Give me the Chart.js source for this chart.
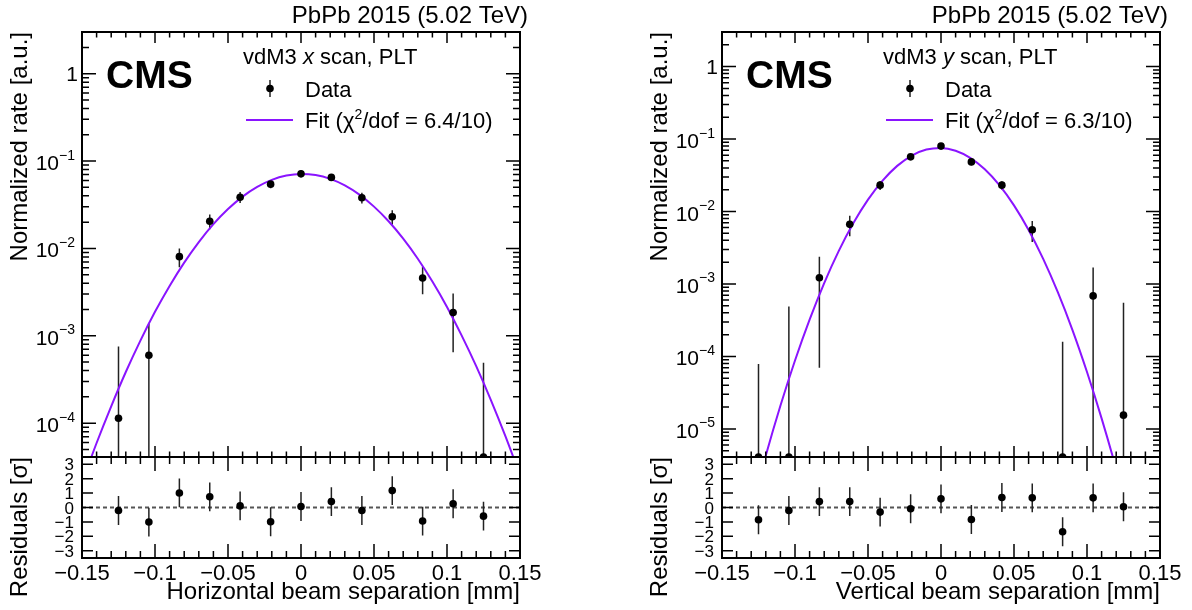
<!DOCTYPE html>
<html lang="en">
<head>
<meta charset="UTF-8">
<title>PLT vdM3 scans, PbPb 2015</title>
<script src="https://cdn.jsdelivr.net/npm/chart.js@4.4.1/dist/chart.umd.min.js"></script>
<style>
  body { margin: 0; background: #fff; }
  #wrap { position: relative; width: 1192px; height: 610px; }
  #wrap canvas { position: absolute; left: 0; top: 0; }
</style>
</head>
<body>
<div id="wrap">
  <canvas id="xRatePad" width="1192" height="610"></canvas>
  <canvas id="xResidPad" width="1192" height="610"></canvas>
  <canvas id="yRatePad" width="1192" height="610"></canvas>
  <canvas id="yResidPad" width="1192" height="610"></canvas>
</div>
<script>
// beam separation of the scan steps [mm] (same steps for both scans)
const separation = [-0.125, -0.1042, -0.0833, -0.0625, -0.0417, -0.0208, 0, 0.0208, 0.0417, 0.0625, 0.0833, 0.1042, 0.125];

// x scan: normalized rate, its error, residuals
const xRate = [1.14e-4, 5.98e-4, 8.05e-3, 0.0205, 0.0386, 0.0544, 0.0716, 0.065, 0.038, 0.023, 4.58e-3, 1.85e-3, 0];
const xRateErr = [6.4e-4, 7.8e-4, 1.95e-3, 3.9e-3, 5.5e-3, 5.7e-3, 6.6e-3, 5.5e-3, 5.4e-3, 4.3e-3, 1.6e-3, 1.2e-3, 4.9e-4];
const xResid = [-0.21, -1.01, 1.01, 0.74, 0.11, -0.99, 0.07, 0.41, -0.21, 1.17, -0.94, 0.26, -0.6];

// y scan
const yRate = [0, 0, 1.22e-3, 6.65e-3, 0.0231, 0.0568, 0.0799, 0.0484, 0.0231, 5.6e-3, 0, 6.85e-4, 1.55e-5];
const yRateErr = [7.9e-5, 4.9e-4, 1.15e-3, 2.1e-3, 3.3e-3, 5.5e-3, 7e-3, 5e-3, 3.1e-3, 1.8e-3, 1.6e-4, 1.0e-3, 5.35e-4];
const yResid = [-0.85, -0.21, 0.41, 0.41, -0.32, -0.09, 0.6, -0.83, 0.69, 0.67, -1.68, 0.67, 0.05];

// fit curves read along the separation axis
const fitSep = [-0.15, -0.14, -0.13, -0.12, -0.11, -0.10, -0.09, -0.08, -0.07, -0.06, -0.05, -0.04, -0.03, -0.02, -0.01, 0,
                0.01, 0.02, 0.03, 0.04, 0.05, 0.06, 0.07, 0.08, 0.09, 0.10, 0.11, 0.12, 0.13, 0.14, 0.15];
const xFit = [2.09e-5, 5.93e-5, 1.56e-4, 3.85e-4, 8.81e-4, 1.88e-3, 3.72e-3, 6.88e-3, 0.01183, 0.01894, 0.02822, 0.03918, 0.05062, 0.06092, 0.06825, 0.0712,
              0.06913, 0.0625, 0.05262, 0.04125, 0.0301, 0.02046, 0.01294, 7.62e-3, 4.18e-3, 2.14e-3, 1.01e-3, 4.49e-4, 1.85e-4, 7.1e-5, 2.54e-5];
const yFit = [1.6e-8, 1.2e-7, 7.7e-7, 4.3e-6, 2.09e-5, 8.8e-5, 3.22e-4, 1.03e-3, 2.86e-3, 6.92e-3, 0.01457, 0.0267, 0.04264, 0.05924, 0.07164, 0.0754,
              0.0691, 0.0551, 0.03827, 0.02313, 0.01216, 5.57e-3, 2.22e-3, 7.7e-4, 2.33e-4, 6.1e-5, 1.4e-5, 2.8e-6, 4.8e-7, 7.4e-8, 9.6e-9];

// axes
const sepTicks = [-0.15, -0.1, -0.05, 0, 0.05, 0.1, 0.15];
const sepTickLabels = ['\u22120.15', '\u22120.1', '\u22120.05', '0', '0.05', '0.1', '0.15'];
const xRateDecades = [0, -1, -2, -3, -4];
const yRateDecades = [0, -1, -2, -3, -4, -5];
const residTicks = [3, 2, 1, 0, -1, -2, -3];
const residTickLabels = ['3', '2', '1', '0', '\u22121', '\u22122', '\u22123'];

const FONT = '"Liberation Sans", Arial, Helvetica, sans-serif';
const FIT_COLOR = '#8a14ff';

function font(size, style) {
    return (style || '') + ' ' + size + 'px ' + FONT;
}

// write text made of several pieces (normal / italic / superscript)
function drawRich(ctx, parts, x, y) {
    let cx = x;
    ctx.textAlign = 'left';
    parts.forEach(function (p) {
        ctx.font = font(p[1], p[2]);
        ctx.fillText(p[0], cx, y + (p[3] || 0));
        cx += ctx.measureText(p[0]).width;
    });
}

function vText(ctx, text, x, y, size) {
    ctx.save();
    ctx.translate(x, y);
    ctx.rotate(-Math.PI / 2);
    ctx.font = font(size);
    ctx.textAlign = 'right';
    ctx.fillText(text, 0, 0);
    ctx.restore();
}

function clipToArea(ctx, a) {
    ctx.beginPath();
    ctx.rect(a.left, a.top, a.right - a.left, a.bottom - a.top);
    ctx.clip();
}

function drawErrorBars(chart, values, errs) {
    const ctx = chart.ctx, a = chart.chartArea;
    const sx = chart.scales.x, sy = chart.scales.y;
    ctx.save();
    clipToArea(ctx, a);
    ctx.strokeStyle = '#222';
    ctx.lineWidth = 1.5;
    ctx.beginPath();
    values.forEach(function (v, i) {
        const px = sx.getPixelForValue(separation[i]);
        const lo = v - errs[i];
        ctx.moveTo(px, sy.getPixelForValue(v + errs[i]));
        ctx.lineTo(px, lo > sy.min ? sy.getPixelForValue(lo) : a.bottom);
    });
    ctx.stroke();
    ctx.restore();
}

function drawFrameAndSepTicks(chart, major, minor) {
    const ctx = chart.ctx, a = chart.chartArea, sx = chart.scales.x;
    ctx.save();
    ctx.strokeStyle = '#000';
    ctx.lineWidth = 1.5;
    ctx.beginPath();
    for (let k = -15; k <= 15; k++) {
        const px = sx.getPixelForValue(k / 100);
        const len = k % 5 === 0 ? major : minor;
        ctx.moveTo(px, a.bottom); ctx.lineTo(px, a.bottom - len);
        ctx.moveTo(px, a.top); ctx.lineTo(px, a.top + len);
    }
    ctx.stroke();
    ctx.lineWidth = 2;
    ctx.strokeRect(a.left, a.top, a.right - a.left, a.bottom - a.top);
    ctx.restore();
}

function drawLogTicks(chart, decades) {
    const ctx = chart.ctx, a = chart.chartArea, sy = chart.scales.y;
    const lo = Math.floor(Math.log10(sy.min)), hi = Math.ceil(Math.log10(sy.max));
    ctx.save();
    ctx.strokeStyle = '#000';
    ctx.lineWidth = 1.5;
    ctx.beginPath();
    for (let d = lo; d <= hi; d++) {
        for (let m = 1; m <= 9; m++) {
            const v = m * Math.pow(10, d);
            if (v < sy.min || v > sy.max) continue;
            const py = sy.getPixelForValue(v);
            const len = m === 1 ? 14 : 7;
            ctx.moveTo(a.left, py); ctx.lineTo(a.left + len, py);
            ctx.moveTo(a.right, py); ctx.lineTo(a.right - len, py);
        }
    }
    ctx.stroke();

    // 1, 10^-1, 10^-2 ...
    ctx.fillStyle = '#000';
    decades.forEach(function (d) {
        const py = sy.getPixelForValue(Math.pow(10, d));
        if (d === 0) {
            ctx.font = font(21);
            ctx.textAlign = 'right';
            ctx.fillText('1', a.left - 4, py + 7.5);
            return;
        }
        const sup = '\u2212' + (-d);
        const xr = a.left - 7;
        ctx.font = font(14);
        const sw = ctx.measureText(sup).width;
        ctx.textAlign = 'left';
        ctx.fillText(sup, xr - sw, py - 1.5);
        ctx.font = font(21);
        ctx.textAlign = 'right';
        ctx.fillText('10', xr - sw, py + 9);
    });
    ctx.restore();
}

function ratePad(values, errs, decades, scanAxis, chi2) {
    return {
        id: 'ratePad',
        beforeDatasetsDraw(chart) {
            drawErrorBars(chart, values, errs);
        },
        afterDatasetsDraw(chart) {
            drawFrameAndSepTicks(chart, 11, 5.5);
            drawLogTicks(chart, decades);
        },
        afterDraw(chart) {
            const ctx = chart.ctx, a = chart.chartArea;
            ctx.save();
            ctx.fillStyle = '#000';
            ctx.textAlign = 'right';
            ctx.font = font(24);
            ctx.fillText('PbPb 2015 (5.02 TeV)', a.right + 8, 23);
            ctx.textAlign = 'left';
            ctx.font = font(39, 'bold');
            ctx.fillText('CMS', a.left + 24, 88);
            drawRich(ctx, [['vdM3 ', 22], [scanAxis, 22, 'italic'], [' scan, PLT', 22]], a.left + 161, 64);

            // legend
            const mx = a.left + 188, my = 88.5;
            ctx.strokeStyle = '#222';
            ctx.lineWidth = 1.5;
            ctx.beginPath();
            ctx.moveTo(mx, my - 8.5); ctx.lineTo(mx, my + 8.5);
            ctx.stroke();
            ctx.beginPath();
            ctx.arc(mx, my, 3.8, 0, 2 * Math.PI);
            ctx.fill();
            ctx.font = font(22);
            ctx.fillText('Data', a.left + 223, 96.5);
            ctx.strokeStyle = FIT_COLOR;
            ctx.lineWidth = 2;
            ctx.beginPath();
            ctx.moveTo(a.left + 164, 120); ctx.lineTo(a.left + 211, 120);
            ctx.stroke();
            drawRich(ctx, [['Fit (\u03c7', 22], ['2', 14, '', -9], ['/dof = ' + chi2 + ')', 22]], a.left + 223, 127.5);

            vText(ctx, 'Normalized rate [a.u.]', a.left - 55, a.top, 24);
            ctx.restore();
        }
    };
}

function residPad(values, title) {
    return {
        id: 'residPad',
        beforeDatasetsDraw(chart) {
            const ctx = chart.ctx, a = chart.chartArea;
            const py = chart.scales.y.getPixelForValue(0);
            ctx.save();
            ctx.strokeStyle = '#555';
            ctx.lineWidth = 2;
            ctx.setLineDash([4, 3]);
            ctx.beginPath();
            ctx.moveTo(a.left, py); ctx.lineTo(a.right, py);
            ctx.stroke();
            ctx.restore();
            drawErrorBars(chart, values, values.map(function () { return 1; }));
        },
        afterDatasetsDraw(chart) {
            const ctx = chart.ctx, a = chart.chartArea, sy = chart.scales.y;
            drawFrameAndSepTicks(chart, 14, 7);
            ctx.save();
            ctx.strokeStyle = '#000';
            ctx.lineWidth = 1.5;
            ctx.beginPath();
            residTicks.forEach(function (t) {
                const py = sy.getPixelForValue(t);
                ctx.moveTo(a.left, py); ctx.lineTo(a.left + 11, py);
                ctx.moveTo(a.right, py); ctx.lineTo(a.right - 11, py);
            });
            ctx.stroke();
            ctx.restore();
        },
        afterDraw(chart) {
            const ctx = chart.ctx, a = chart.chartArea;
            const sx = chart.scales.x, sy = chart.scales.y;
            ctx.save();
            ctx.fillStyle = '#000';
            ctx.textAlign = 'right';
            ctx.font = font(17);
            residTicks.forEach(function (t, i) {
                ctx.fillText(residTickLabels[i], a.left - 8, sy.getPixelForValue(t) + 6);
            });
            ctx.textAlign = 'center';
            ctx.font = font(22);
            sepTicks.forEach(function (t, i) {
                ctx.fillText(sepTickLabels[i], sx.getPixelForValue(t), 580);
            });
            ctx.textAlign = 'right';
            ctx.font = font(24);
            ctx.fillText(title, a.right, 599);
            vText(ctx, 'Residuals [\u03c3]', a.left - 55, a.top, 24);
            ctx.restore();
        }
    };
}

function points(ys, floor) {
    return separation.map(function (s, i) {
        return { x: s, y: floor === undefined ? ys[i] : Math.max(ys[i], floor) };
    });
}

function baseOptions(pad, yScale) {
    return {
        responsive: false,
        animation: false,
        events: [],
        layout: { padding: pad },
        plugins: { legend: { display: false }, tooltip: { enabled: false } },
        scales: {
            x: { type: 'linear', min: -0.15, max: 0.15, bounds: 'data', display: false },
            y: yScale
        }
    };
}

function makeRateChart(id, values, errs, fit, yMin, decades, scanAxis, chi2, pad) {
    new Chart(document.getElementById(id), {
        type: 'scatter',
        data: {
            datasets: [
                { data: points(values, yMin), pointRadius: 3.8, pointBackgroundColor: '#000', pointBorderWidth: 0, clip: 0 },
                {
                    data: fitSep.map(function (s, i) { return { x: s, y: fit[i] }; }),
                    showLine: true, pointRadius: 0, borderColor: FIT_COLOR, borderWidth: 2,
                    cubicInterpolationMode: 'monotone', capBezierPoints: false
                }
            ]
        },
        options: baseOptions(pad, { type: 'logarithmic', min: yMin, max: 3.0, bounds: 'data', display: false }),
        plugins: [ratePad(values, errs, decades, scanAxis, chi2)]
    });
}

function makeResidChart(id, values, title, pad) {
    new Chart(document.getElementById(id), {
        type: 'scatter',
        data: {
            datasets: [
                { data: points(values), pointRadius: 3.8, pointBackgroundColor: '#000', pointBorderWidth: 0, clip: 0 }
            ]
        },
        options: baseOptions(pad, { type: 'linear', min: -3.5, max: 3.5, bounds: 'data', display: false }),
        plugins: [residPad(values, title)]
    });
}

// left panel: horizontal (x) scan
makeRateChart('xRatePad', xRate, xRateErr, xFit, 4.1e-5, xRateDecades, 'x', '6.4/10',
    { left: 82, right: 672, top: 32, bottom: 153 });
makeResidChart('xResidPad', xResid, 'Horizontal beam separation [mm]',
    { left: 82, right: 672, top: 457, bottom: 52 });

// right panel: vertical (y) scan
makeRateChart('yRatePad', yRate, yRateErr, yFit, 4.1e-6, yRateDecades, 'y', '6.3/10',
    { left: 722, right: 32, top: 32, bottom: 153 });
makeResidChart('yResidPad', yResid, 'Vertical beam separation [mm]',
    { left: 722, right: 32, top: 457, bottom: 52 });
</script>
</body>
</html>
